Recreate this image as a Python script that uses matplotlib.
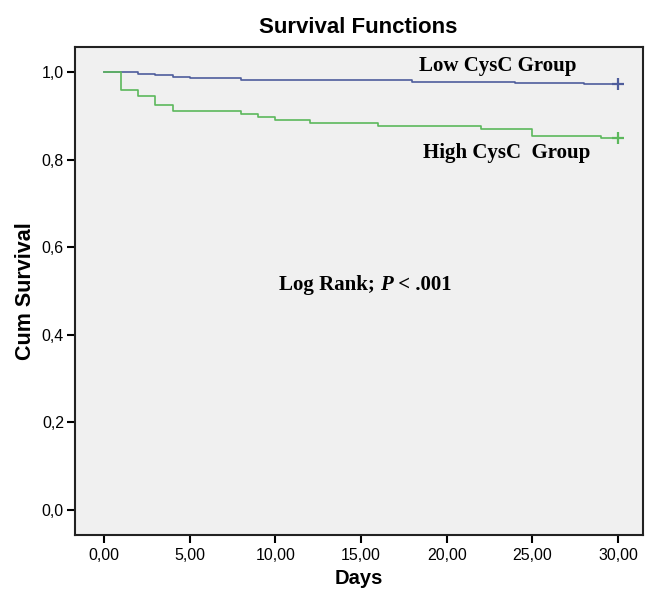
import matplotlib
matplotlib.use("Agg")
import matplotlib.pyplot as plt

plt.rcParams["font.family"] = ["Liberation Sans", "DejaVu Sans"]

# Kaplan-Meier step data
days_low = [0, 2, 3, 4, 5, 8, 18, 24, 28, 30]
surv_low = [1.0, 0.996, 0.993, 0.989, 0.986, 0.982, 0.978, 0.976, 0.972, 0.972]

days_high = [0, 1, 2, 3, 4, 8, 9, 10, 12, 16, 22, 25, 29, 30]
surv_high = [1.0, 0.959, 0.945, 0.924, 0.911, 0.904, 0.897, 0.890, 0.884,
             0.877, 0.869, 0.855, 0.849, 0.849]

x_ticks = [0, 5, 10, 15, 20, 25, 30]
x_labels = ["0,00", "5,00", "10,00", "15,00", "20,00", "25,00", "30,00"]
y_ticks = [0.0, 0.2, 0.4, 0.6, 0.8, 1.0]
y_labels = ["0,0", "0,2", "0,4", "0,6", "0,8", "1,0"]

blue = "#4f5d9c"
green = "#5cb85c"

fig = plt.figure(figsize=(6.49, 5.9), dpi=100)
ax = fig.add_axes([0.1156, 0.0932, 0.8752, 0.8271])
ax.set_facecolor("#f0f0f0")

ax.step(days_low, surv_low, where="post", color=blue, lw=1.2)
ax.step(days_high, surv_high, where="post", color=green, lw=1.2)
ax.plot(days_low[-1], surv_low[-1], "+", color=blue, ms=9, mew=1.6)
ax.plot(days_high[-1], surv_high[-1], "+", color=green, ms=9, mew=1.6)

ax.set_xlim(-1.69, 31.46)
ax.set_ylim(-0.057, 1.057)
ax.set_xticks(x_ticks)
ax.set_xticklabels(x_labels)
ax.set_yticks(y_ticks)
ax.set_yticklabels(y_labels)
ax.tick_params(direction="out", length=6, width=1.5, labelsize=11.5, pad=2)
ax.tick_params(axis="x", pad=3)
for s in ax.spines.values():
    s.set_linewidth(1.5)
    s.set_color("#222222")

ax.set_xlabel("Days", fontsize=14.5, fontweight="bold", labelpad=5)
ax.set_ylabel("Cum Survival", fontsize=15.5, fontweight="bold", labelpad=4)
fig.text(0.552, 0.953, "Survival Functions", ha="center", va="center",
         fontsize=16, fontweight="bold")

serif = "Liberation Serif"
ax.text(23.0, 1.014, "Low CysC Group", ha="center", va="center",
        fontsize=15, fontweight="bold", family=serif)
ax.text(23.5, 0.815, "High CysC  Group", ha="center", va="center",
        fontsize=15, fontweight="bold", family=serif)

t1 = ax.text(10.2, 0.514, "Log Rank; ", ha="left", va="center",
             fontsize=15, fontweight="bold", family=serif)
t2 = ax.annotate("P", xy=(1, 0), xycoords=t1, ha="left", va="bottom",
                 fontsize=15, fontweight="bold", fontstyle="italic", family=serif)
ax.annotate(" < .001", xy=(1, 0), xycoords=t2, ha="left", va="bottom",
            fontsize=15, fontweight="bold", family=serif)

fig.savefig("out.png", dpi=100)
